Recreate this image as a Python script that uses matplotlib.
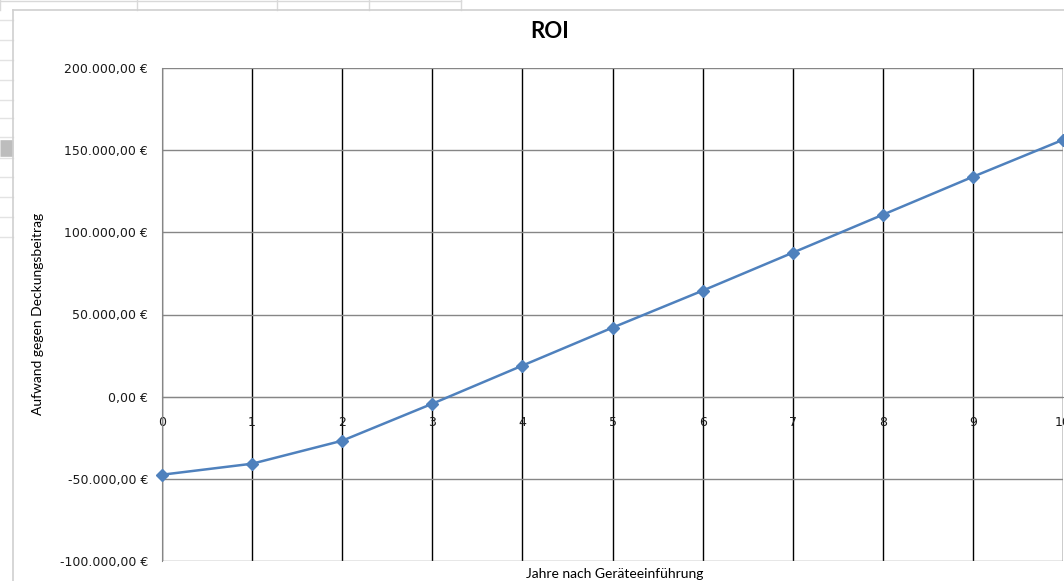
import matplotlib.pyplot as plt
from matplotlib.ticker import FuncFormatter
from matplotlib.lines import Line2D

# Data
years = [0, 1, 2, 3, 4, 5, 6, 7, 8, 9, 10]
roi = [-47500, -40800, -26800, -4300, 18900, 42000, 64500, 87600, 110700, 133800, 156300]
y_ticks = [-100000, -50000, 0, 50000, 100000, 150000, 200000]

W, H = 1064, 581


def euro(v, pos=None):
    s = f"{v:,.2f}"
    s = s.replace(",", "X").replace(".", ",").replace("X", ".")
    return s + " \u20ac"


fig = plt.figure(figsize=(W / 100, H / 100), dpi=100)

# spreadsheet behind the chart (just a hint of cells)
for x in [0, 137, 277, 369, 461]:
    fig.add_artist(Line2D([x / W, x / W], [1 - 0 / H, 1 - 10 / H], transform=fig.transFigure,
                          color="#d9d9d9", lw=1))
fig.add_artist(Line2D([0, 461 / W], [1 - 1 / H, 1 - 1 / H], transform=fig.transFigure,
                      color="#d9d9d9", lw=1))
for y in [20, 40, 60, 80, 100, 118, 137, 158, 177, 197, 217, 237]:
    fig.add_artist(Line2D([0, 13 / W], [1 - y / H, 1 - y / H], transform=fig.transFigure,
                          color="#e3e3e3", lw=1))
fig.add_artist(Line2D([0, 13 / W], [1 - 148 / H, 1 - 148 / H], transform=fig.transFigure,
                      color="#bdbdbd", lw=12, solid_capstyle="butt"))

# chart area border
fig.add_artist(Line2D([13 / W, 13 / W], [0, 1 - 10 / H], transform=fig.transFigure,
                      color="#d0d0d0", lw=1.2))
fig.add_artist(Line2D([13 / W, 1], [1 - 10 / H, 1 - 10 / H], transform=fig.transFigure,
                      color="#d0d0d0", lw=1.2))

ax = fig.add_axes([162 / W, 1 - 561 / H, (1063 - 162) / W, (561 - 68) / H])

ax.plot(years, roi, color="#4F81BD", lw=1.8, marker="D", markersize=6.5,
        markerfacecolor="#4F81BD", markeredgecolor="#4F81BD", clip_on=False, zorder=5)

ax.set_xlim(0, 10)
ax.set_ylim(-100000, 200000)
ax.set_yticks(y_ticks)
ax.yaxis.set_major_formatter(FuncFormatter(euro))
ax.set_xticks(years)
ax.set_xticklabels([str(y) for y in years])

ax.grid(axis="y", color="#868686", lw=1)
ax.grid(axis="x", color="black", lw=1)
ax.set_axisbelow(True)

for s in ["top", "right"]:
    ax.spines[s].set_visible(False)
ax.spines["left"].set_color("#868686")
ax.spines["bottom"].set_position(("data", 0))
ax.spines["bottom"].set_color("#868686")

ax.tick_params(axis="y", length=0, pad=10, labelsize=9, labelcolor="#1a1a1a")
ax.tick_params(axis="x", length=0, pad=14, labelsize=9, labelcolor="#1a1a1a")
for lab in ax.get_yticklabels() + ax.get_xticklabels():
    lab.set_fontfamily("DejaVu Sans")

fig.text(550 / W, 1 - 32 / H, "ROI", ha="center", va="center", fontsize=16,
         fontweight="bold", family="Lato")
fig.text(615 / W, 1 - 574 / H, "Jahre nach Geräteeinführung", ha="center", va="center",
         fontsize=10, family="Lato")
fig.text(38 / W, 1 - 314 / H, "Aufwand gegen Deckungsbeitrag", ha="center", va="center",
         rotation=90, fontsize=10, family="Lato")

fig.savefig("out.png", dpi=100)
